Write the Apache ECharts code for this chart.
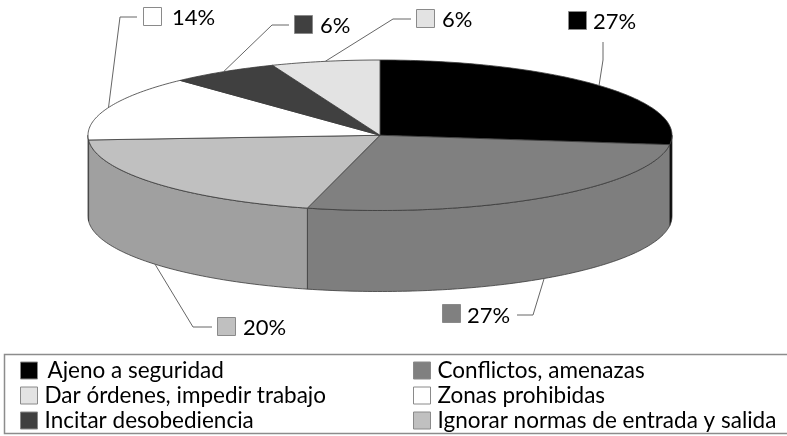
<!DOCTYPE html>
<html>
<head>
<meta charset="utf-8">
<style>
  html, body { margin: 0; padding: 0; background: #fff; }
  #main { width: 787px; height: 436px; }
</style>
<script src="https://cdn.jsdelivr.net/npm/echarts@6/dist/echarts.min.js"></script>
</head>
<body>
<div id="main"></div>
<script>
// slices run clockwise from 12 o'clock
const categories = ['Ajeno a seguridad', 'Conflictos, amenazas', 'Ignorar normas de entrada y salida', 'Zonas prohibidas', 'Incitar desobediencia', 'Dar órdenes, impedir trabajo'];
const percents = [27, 27, 20, 14, 6, 6];
const legendLeft = ['Ajeno a seguridad', 'Dar órdenes, impedir trabajo', 'Incitar desobediencia'];
const legendRight = ['Conflictos, amenazas', 'Zonas prohibidas', 'Ignorar normas de entrada y salida'];

const topColors = ['#000000', '#808080', '#c0c0c0', '#ffffff', '#404040', '#e3e3e3'];
const sideColors = ['#000000', '#7e7e7e', '#a0a0a0', '#cccccc', '#303030', '#aaaaaa'];

// where each callout sits: elbow and end of the leader, swatch corner, text start
const callouts = [
  { elbow: [603, 60], end: [603, 42], box: [568, 11], text: [593, 22] },
  { elbow: [533, 315], end: [517, 315], box: [442, 304], text: [467, 316] },
  { elbow: [193, 327], end: [212, 327], box: [217, 317], text: [243, 328] },
  { elbow: [120, 17], end: [137, 17], box: [143, 7], text: [172, 18] },
  { elbow: [272, 25], end: [289, 25], box: [294, 15], text: [320, 26] },
  { elbow: [393, 19], end: [411, 19], box: [416, 9], text: [442, 20] }
];

const pie = { cx: 380, cy: 135.25, rx: 292, ry: 75.25, depth: 81 };
const fontFamily = 'Lato, "Open Sans", sans-serif';
const total = percents.reduce((a, b) => a + b, 0);

function ellipsePoint(deg, dy) {
  const a = deg * Math.PI / 180;
  return [pie.cx + pie.rx * Math.sin(a), pie.cy - pie.ry * Math.cos(a) + (dy || 0)];
}

function arc(from, to, dy) {
  const pts = [];
  const n = Math.max(2, Math.ceil(Math.abs(to - from)));
  for (let i = 0; i <= n; i++) pts.push(ellipsePoint(from + (to - from) * i / n, dy));
  return pts;
}

function renderSlice(params, api) {
  const i = params.seriesIndex;
  const value = api.value(0);
  let before = 0;
  for (let k = 0; k < i; k++) before += percents[k];
  const start = before / total * 360;
  const end = start + value / total * 360;
  const mid = (start + end) / 2;
  const children = [];

  // only the part between 90 and 270 degrees faces the viewer
  const sFrom = Math.max(start, 90);
  const sTo = Math.min(end, 270);
  const edge = { stroke: '#3a3a3a', lineWidth: 0.8 };
  if (sTo > sFrom) {
    children.push({
      type: 'polygon',
      z2: 1,
      shape: { points: arc(sFrom, sTo, 0).concat(arc(sTo, sFrom, pie.depth)) },
      style: Object.assign({ fill: sideColors[i] }, edge)
    });
  }
  children.push({
    type: 'polygon',
    z2: 2,
    shape: { points: [[pie.cx, pie.cy]].concat(arc(start, end, 0)) },
    style: Object.assign({ fill: topColors[i] }, edge)
  });

  // leader line leaves the outer rim at the middle of the slice
  const front = mid > 90 && mid < 270;
  const c = callouts[i];
  children.push({
    type: 'polyline',
    z2: 3,
    shape: { points: [ellipsePoint(mid, front ? pie.depth : 0), c.elbow, c.end] },
    style: { fill: null, stroke: '#666', lineWidth: 1 }
  });
  children.push({
    type: 'rect',
    z2: 3,
    shape: { x: c.box[0] + 0.5, y: c.box[1] + 0.5, width: 18, height: 18 },
    style: { fill: topColors[i], stroke: '#8a8a8a', lineWidth: 1 }
  });
  children.push({
    type: 'text',
    z2: 3,
    style: {
      x: c.text[0], y: c.text[1],
      text: value + '%',
      fill: '#000',
      font: '22px ' + fontFamily,
      textAlign: 'left', textVerticalAlign: 'middle'
    }
  });
  return { type: 'group', children: children };
}

const legendBase = {
  orient: 'vertical',
  top: 359,
  padding: 0,
  itemWidth: 17,
  itemHeight: 17,
  itemGap: 2,
  itemStyle: { borderColor: '#8a8a8a', borderWidth: 1 },
  selectedMode: false,
  icon: 'rect',
  textStyle: { fontFamily: 'Lato, "Open Sans", sans-serif', fontSize: 22.5, lineHeight: 17, color: '#000', padding: [0, 0, 0, 2] }
};

const myChart = echarts.init(document.getElementById('main'));
myChart.setOption({
  animation: false,
  backgroundColor: '#fff',
  legend: [
    // first entry sits a little further from its swatch in the original
    Object.assign({}, legendBase, {
      left: 20,
      data: legendLeft.map((name, k) => k === 0 ? { name: name, textStyle: { padding: [0, 0, 0, 5] } } : name)
    }),
    Object.assign({}, legendBase, { left: 413, data: legendRight })
  ],
  graphic: [{
    type: 'rect',
    silent: true,
    shape: { x: 4.5, y: 354.5, width: 800, height: 79 },
    style: { fill: null, stroke: '#8c8c8c', lineWidth: 1.5 }
  }],
  series: categories.map((name, i) => ({
    type: 'custom',
    name: name,
    coordinateSystem: 'none',
    silent: true,
    itemStyle: { color: topColors[i] },
    renderItem: renderSlice,
    data: [[percents[i]]]
  }))
});
</script>
</body>
</html>
